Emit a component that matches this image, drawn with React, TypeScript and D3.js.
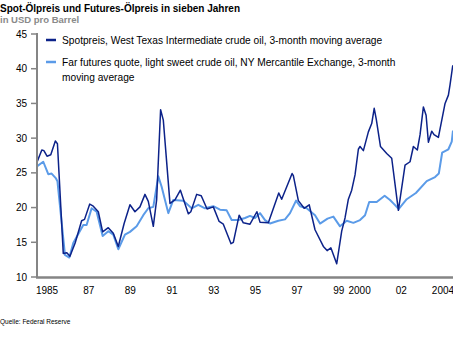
import React from "react";
import * as d3 from "d3";

const spotT = [1985.0,1985.25,1985.35,1985.5,1985.68,1985.9,1986.0,1986.28,1986.45,1986.6,1986.85,1987.16,1987.3,1987.55,1987.72,1987.96,1988.17,1988.44,1988.68,1988.92,1989.2,1989.48,1989.72,1989.96,1990.2,1990.36,1990.6,1990.76,1990.95,1991.08,1991.4,1991.64,1991.9,1992.28,1992.4,1992.68,1992.9,1993.18,1993.48,1993.76,1993.96,1994.33,1994.44,1994.72,1994.92,1995.24,1995.57,1995.72,1996.12,1996.62,1996.76,1997.26,1997.32,1997.56,1997.84,1998.08,1998.36,1998.76,1998.94,1999.12,1999.4,1999.64,1999.8,1999.96,2000.12,2000.28,2000.44,2000.52,2000.68,2000.92,2001.08,2001.2,2001.3,2001.5,2001.8,2002.04,2002.36,2002.68,2002.92,2003.08,2003.27,2003.4,2003.56,2003.69,2003.8,2003.96,2004.07,2004.28,2004.6,2004.76,2004.84,2004.97];
const spotV = [26.4,28.3,28.2,27.4,27.6,29.6,29.2,13.4,13.5,13.0,14.9,18.1,18.3,20.5,20.2,19.4,16.5,17.1,16.3,14.4,17.7,20.4,19.4,20.1,21.9,20.9,17.3,21.1,34.1,32.6,20.6,21.1,22.5,19.1,19.4,21.9,21.7,19.8,20.1,18.0,17.6,14.8,15.0,18.9,17.8,17.6,19.4,17.9,17.8,22.1,21.2,24.9,24.6,21.0,19.9,20.4,16.8,14.4,13.8,14.2,11.9,16.6,18.5,21.2,22.5,24.7,28.4,28.8,28.2,30.9,32.1,34.3,32.7,28.8,27.8,27.1,19.6,26.1,26.6,28.8,28.3,30.5,34.5,33.3,29.4,31.0,30.5,30.1,35.0,36.2,37.7,40.5];

const futT = [1985.0,1985.32,1985.56,1985.72,1985.93,1986.0,1986.36,1986.57,1986.76,1987.24,1987.4,1987.64,1987.88,1988.17,1988.44,1988.68,1988.92,1989.24,1989.48,1989.8,1990.12,1990.36,1990.6,1990.84,1991.0,1991.32,1991.56,1992.04,1992.44,1992.76,1993.08,1993.48,1993.8,1994.12,1994.36,1994.68,1995.0,1995.24,1995.48,1995.72,1995.96,1996.2,1996.6,1996.92,1997.16,1997.45,1997.64,1997.96,1998.36,1998.6,1998.96,1999.24,1999.56,1999.88,2000.2,2000.52,2000.76,2000.96,2001.32,2001.7,2001.96,2002.12,2002.38,2002.76,2003.2,2003.72,2004.12,2004.3,2004.46,2004.76,2004.92,2004.98];
const futV = [25.9,26.6,24.8,24.9,24.2,23.8,13.2,12.8,14.9,17.5,17.5,19.9,19.4,15.9,16.6,16.1,14.0,16.1,16.5,17.3,18.9,19.9,20.1,24.5,23.0,19.2,21.1,21.0,19.9,20.4,19.9,20.2,19.7,19.6,18.2,18.2,18.5,18.8,18.5,19.2,18.2,17.7,18.1,18.3,19.2,21.0,20.2,19.9,18.9,17.7,18.4,18.7,17.3,18.1,17.8,18.2,18.9,20.8,20.8,21.7,21.1,20.6,19.8,21.2,22.1,23.8,24.4,24.9,27.9,28.4,29.5,31.1];

const yTicks = [10, 15, 20, 25, 30, 35, 40, 45];
const xTickYears = [1985, 1987, 1989, 1991, 1993, 1995, 1997, 1999, 2000, 2002, 2004];
const xTickLabels = ["1985", "87", "89", "91", "93", "95", "97", "99", "2000", "02", "2004"];

const title = "Spot-Ölpreis und Futures-Ölpreis in sieben Jahren";
const subtitle = "in USD pro Barrel";
const legend1 = "Spotpreis, West Texas Intermediate crude oil, 3-month moving average";
const legend2a = "Far futures quote, light sweet crude oil, NY Mercantile Exchange, 3-month";
const legend2b = "moving average";
const source = "Quelle: Federal Reserve";

const W = 453, H = 348;
const x = d3.scaleLinear().domain([1985, 2005]).range([36.6, 36.6 + 20 * 20.84]);
const y = d3.scaleLinear().domain([10, 45]).range([277, 34]);

const spotColor = "#0c2289";
const futColor = "#5b9be8";
const axisColor = "#858585";
const font = "Liberation Sans, Arial, sans-serif";

export default function App() {
  const line = d3.line<[number, number]>().x(d => x(d[0])).y(d => y(d[1]));
  const spot = line(spotT.map((t, i) => [t, spotV[i]] as [number, number])) || "";
  const fut = line(futT.map((t, i) => [t, futV[i]] as [number, number])) || "";
  const x0 = 37;
  return (
    <svg width={W} height={H} style={{ position: "absolute", left: 0, top: 0, background: "#fff" }} fontFamily={font}>
      <text x={0} y={12} fontSize={10} fontWeight="bold" fill="#000">{title}</text>
      <text x={0} y={23} fontSize={9.5} fontWeight="bold" fill="#8a8a8a">{subtitle}</text>

      <path d={fut} fill="none" stroke={futColor} strokeWidth={2} strokeLinejoin="round" />
      <path d={spot} fill="none" stroke={spotColor} strokeWidth={1.5} strokeLinejoin="round" />

      <line x1={x0} x2={x0} y1={33} y2={278} stroke={axisColor} strokeWidth={2} />
      <line x1={x0 - 1} x2={W} y1={277.5} y2={277.5} stroke={axisColor} strokeWidth={2.5} />
      {yTicks.map(v => (
        <g key={v}>
          <line x1={31} x2={x0} y1={y(v)} y2={y(v)} stroke={axisColor} strokeWidth={1.5} />
          <text x={27} y={y(v) + 3.5} fontSize={10} textAnchor="end" fill="#000">{v}</text>
        </g>
      ))}
      {xTickYears.map((yr, i) => (
        <text key={yr} x={x(yr + 0.5)} y={294} fontSize={10} textAnchor="middle" fill="#000">{xTickLabels[i]}</text>
      ))}

      <line x1={46} x2={56} y1={40} y2={40} stroke={spotColor} strokeWidth={2.5} />
      <text x={62} y={44} fontSize={10.2} fill="#000">{legend1}</text>
      <line x1={46} x2={56} y1={62} y2={62} stroke={futColor} strokeWidth={2.5} />
      <text x={62} y={66} fontSize={10.2} fill="#000">{legend2a}</text>
      <text x={62} y={81} fontSize={10.2} fill="#000">{legend2b}</text>

      <text x={0} y={324} fontSize={6.5} fill="#000">{source}</text>
    </svg>
  );
}
